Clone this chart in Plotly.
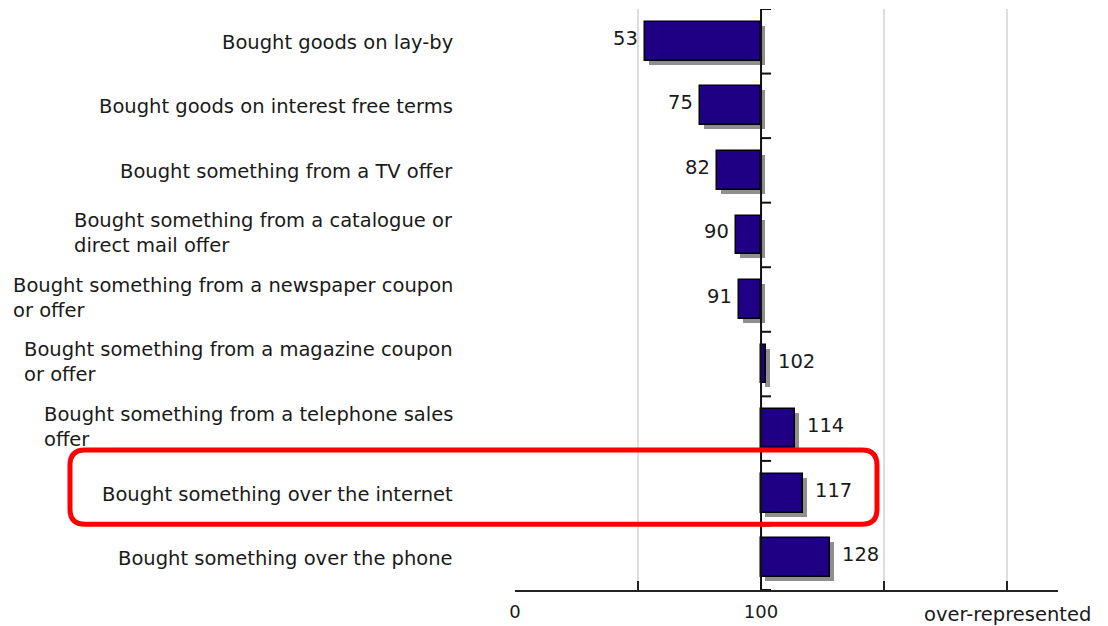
import plotly.graph_objects as go

# Index values (100 = average) for each purchasing behaviour
categories = [
    "Bought goods on lay-by",
    "Bought goods on interest free terms",
    "Bought something from a TV offer",
    "Bought something from a catalogue or<br>direct mail offer",
    "Bought something from a newspaper coupon<br>or offer",
    "Bought something from a magazine coupon<br>or offer",
    "Bought something from a telephone sales<br>offer",
    "Bought something over the internet",
    "Bought something over the phone",
]
index_values = [53, 75, 82, 90, 91, 102, 114, 117, 128]
axis_tick_values = [0, 50, 100, 150, 200]
axis_tick_text = ["0", "", "100", "", ""]
highlight_category = "Bought something over the internet"

BASELINE = 100
X_MAX = 220.7
FONT = "DejaVu Sans"
TEXT_COLOR = "#1a1a1a"
BAR_COLOR = "#1f0084"
SHADOW_COLOR = "#8f8f8f"
LABEL_SIZE = 19.5

L, R, T, B = 515, 50, 9, 36
W, H = 1108, 626
plot_w = W - L - R
plot_h = H - T - B
n = len(categories)
px_per_unit = plot_w / X_MAX
px_per_row = plot_h / n

ypos = list(range(n))
deltas = [v - BASELINE for v in index_values]

shadow_dx = 4 / px_per_unit
shadow_dy = 4 / px_per_row
bar_w = 0.6

fig = go.Figure()

# drop shadow behind each bar
fig.add_trace(go.Bar(
    y=ypos, x=deltas, base=[BASELINE + shadow_dx] * n, orientation="h",
    width=bar_w, offset=-bar_w / 2 + shadow_dy,
    marker=dict(color=SHADOW_COLOR, line=dict(width=0)),
    hoverinfo="skip", showlegend=False,
))
# main bars, drawn from the 100 baseline
fig.add_trace(go.Bar(
    y=ypos, x=deltas, base=[BASELINE] * n, orientation="h",
    width=bar_w, offset=-bar_w / 2,
    marker=dict(color=BAR_COLOR, line=dict(color="#000000", width=1.5)),
    showlegend=False,
))

annotations = []
# category labels: right-aligned block, left-aligned lines
for i, c in enumerate(categories):
    multi = "<br>" in c
    annotations.append(dict(
        x=0, xref="paper", y=i, yref="y", text=c, showarrow=False,
        xanchor="right", yanchor="middle", align="left", xshift=-60,
        yshift=2 if multi else -1,
        font=dict(family=FONT, size=LABEL_SIZE, color=TEXT_COLOR),
    ))
# value labels at the end of each bar
for i, v in enumerate(index_values):
    below = v < BASELINE
    annotations.append(dict(
        x=v, xref="x", y=i, yref="y", text=str(v), showarrow=False,
        xanchor="right" if below else "left", yanchor="middle",
        xshift=-5 if below else 10, yshift=3,
        font=dict(family=FONT, size=LABEL_SIZE, color=TEXT_COLOR),
    ))
annotations.append(dict(
    x=200, xref="x", y=0, yref="paper", text="over-represented", showarrow=False,
    xanchor="center", yanchor="middle", yshift=-24,
    font=dict(family=FONT, size=LABEL_SIZE, color=TEXT_COLOR),
))

shapes = []
# vertical baseline at 100 with row separators
shapes.append(dict(type="line", xref="x", yref="y", x0=BASELINE, x1=BASELINE,
                   y0=-0.5, y1=n - 0.5, line=dict(color="#111111", width=2), layer="above"))
for k in range(n + 1):
    shapes.append(dict(type="line", xref="x", yref="y", x0=BASELINE,
                       x1=BASELINE + 10 / px_per_unit, y0=k - 0.5, y1=k - 0.5,
                       line=dict(color="#111111", width=2), layer="above"))

# rounded highlight box around one row
hi = categories.index(highlight_category)
x0 = (70 - L) / plot_w
x1 = (877 - L) / plot_w
y0 = hi - 0.67
y1 = hi + 0.48
rx = 15 / plot_w
ry = 15 / px_per_row
path = (
    f"M {x0 + rx},{y0} L {x1 - rx},{y0} Q {x1},{y0} {x1},{y0 + ry} "
    f"L {x1},{y1 - ry} Q {x1},{y1} {x1 - rx},{y1} "
    f"L {x0 + rx},{y1} Q {x0},{y1} {x0},{y1 - ry} "
    f"L {x0},{y0 + ry} Q {x0},{y0} {x0 + rx},{y0} Z"
)
shapes.append(dict(type="path", xref="paper", yref="y", path=path,
                   line=dict(color="#ff0000", width=5), layer="above"))

fig.update_layout(
    width=W, height=H,
    margin=dict(l=L, r=R, t=T, b=B),
    paper_bgcolor="white", plot_bgcolor="white",
    barmode="overlay", bargap=0,
    annotations=annotations, shapes=shapes,
    xaxis=dict(
        range=[0, X_MAX], tickvals=axis_tick_values, ticktext=axis_tick_text,
        showgrid=True, gridcolor="#dedede", gridwidth=1.5,
        showline=True, linecolor="#222222", linewidth=2,
        ticks="inside", ticklen=9, tickwidth=2, tickcolor="#222222",
        tickfont=dict(family=FONT, size=18, color=TEXT_COLOR),
        ticklabelstandoff=4, automargin=False,
        zeroline=False, fixedrange=True,
    ),
    yaxis=dict(
        range=[n - 0.5, -0.5], showticklabels=False, showgrid=False,
        zeroline=False, showline=False, fixedrange=True, automargin=False,
    ),
)

fig.write_html("out.html")
